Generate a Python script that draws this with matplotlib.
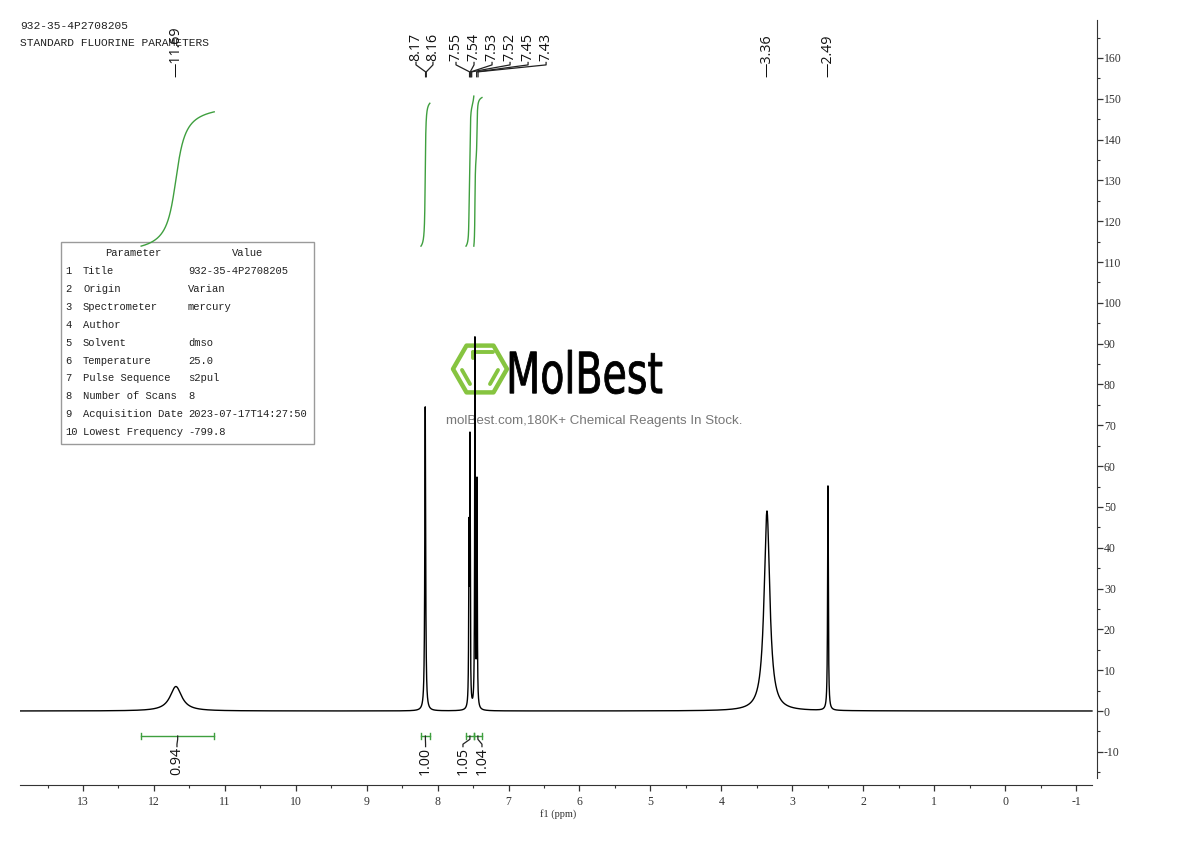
import numpy as np
import matplotlib
matplotlib.use("Agg")
import matplotlib.pyplot as plt
from matplotlib.patches import Polygon, Rectangle, PathPatch
from matplotlib.textpath import TextPath
from matplotlib.font_manager import FontProperties
from matplotlib.transforms import Affine2D
from matplotlib.ticker import MultipleLocator

plt.rcParams['axes.unicode_minus'] = False

# ---------------- data ----------------
header_lines = ["932-35-4P2708205", "STANDARD FLUORINE PARAMETERS"]

peak_ppm = [11.69, 8.175, 7.558, 7.544, 7.474, 7.445, 3.357, 2.497]
peak_height = [6.0, 74.5, 41.0, 64.0, 90.0, 55.0, 49.0, 55.0]
peak_hwhm = [0.10, 0.007, 0.0045, 0.0045, 0.0045, 0.0045, 0.048, 0.006]

label_groups = [["11.69"], ["8.17", "8.16"],
                ["7.55", "7.54", "7.53", "7.52", "7.45", "7.43"],
                ["3.36"], ["2.49"]]

integral_ranges = [(12.18, 11.15), (8.235, 8.11), (7.60, 7.49), (7.49, 7.375)]
integral_values = [0.94, 1.00, 1.05, 1.04]

param_names = ["Title", "Origin", "Spectrometer", "Author", "Solvent",
               "Temperature", "Pulse Sequence", "Number of Scans",
               "Acquisition Date", "Lowest Frequency"]
param_values = ["932-35-4P2708205", "Varian", "mercury", "", "dmso",
                "25.0", "s2pul", "8", "2023-07-17T14:27:50", "-799.8"]

x_ticks = list(range(13, -2, -1))
y_ticks = list(range(-10, 170, 10))
x_label = "f1 (ppm)"
logo_text = "MolBest"
logo_sub = "molBest.com,180K+ Chemical Reagents In Stock."

# ---------------- layout / style ----------------
W, H = 1190, 841
XL, XR = 13.888, -1.296      # ppm at axes left/right edge
YB, YT = -18.13, 169.3
X_END = -1.225               # end of spectrum / bottom spine
label_pos = [[11.689], [8.305, 8.066],
             [7.741, 7.487, 7.233, 6.979, 6.725, 6.471],
             [3.357], [2.497]]
int_label_pos = [11.675, 8.17, 7.643, 7.375]
GREEN = "#3f9f3f"
LABEL_FONT = "Open Sans"
LFS = 10.3
SERIF = "Liberation Serif"
MONO = "Liberation Mono"

fig = plt.figure(figsize=(W / 100, H / 100), dpi=100)

ov = fig.add_axes([0, 0, 1, 1], zorder=0)
ov.set_xlim(0, W)
ov.set_ylim(H, 0)
ov.axis("off")

ax = fig.add_axes([20 / W, 1 - 785 / H, (1097 - 20) / W, (785 - 20) / H], zorder=1)
ax.patch.set_visible(False)

# ---------------- spectrum ----------------
ppm = np.linspace(XL, X_END, 80000)
spec = np.zeros_like(ppm)
for c, h, w in zip(peak_ppm, peak_height, peak_hwhm):
    spec += h / (1 + ((ppm - c) / w) ** 2)
ax.plot(ppm, spec, color="black", lw=1.0, zorder=3)

ax.set_xlim(XL, XR)
ax.set_ylim(YB, YT)

for s in ["top", "left"]:
    ax.spines[s].set_visible(False)
ax.spines["bottom"].set_bounds(XL, X_END)
ax.spines["right"].set_bounds(-16.4, YT)
ax.spines["bottom"].set_color("#333333")
ax.spines["right"].set_color("#333333")
ax.yaxis.tick_right()
ax.set_xticks(x_ticks)
ax.set_xticklabels([str(t) for t in x_ticks])
ax.xaxis.set_minor_locator(MultipleLocator(0.5))
ax.set_yticks(y_ticks)
ax.set_yticklabels([str(t) for t in y_ticks])
ax.yaxis.set_minor_locator(MultipleLocator(5))
ax.tick_params(axis="x", which="major", direction="out", length=4, width=0.9,
               pad=4, labelsize=8.5, colors="#333333")
ax.tick_params(axis="x", which="minor", direction="out", length=2.5, width=0.8,
               colors="#333333")
ax.tick_params(axis="y", which="major", direction="out", length=4, width=0.9,
               pad=1, labelsize=8.5, colors="#333333")
ax.tick_params(axis="y", which="minor", direction="out", length=2.5, width=0.8,
               colors="#333333")
for lab in ax.get_xticklabels() + ax.get_yticklabels():
    lab.set_family(SERIF)
ax.set_xlabel(x_label, fontsize=7.5, family=SERIF, labelpad=1, color="#333333")

# ---------------- peak labels ----------------
Y_TXT_SINGLE = 155.4
Y_TXT_GROUP = 159.2
Y_L2, Y_L3, Y_L4 = 158.3, 156.6, 155.4
for grp, pos in zip(label_groups, label_pos):
    if len(grp) == 1:
        ax.text(pos[0], Y_TXT_SINGLE, "\u2014" + grp[0], rotation=90,
                ha="center", va="bottom", fontsize=LFS, family=LABEL_FONT,
                color="#111111", clip_on=False)
    else:
        for t, lx in zip(grp, pos):
            px = float(t)
            ax.text(lx, Y_TXT_GROUP, t, rotation=90, ha="center", va="bottom",
                    fontsize=LFS, family=LABEL_FONT, color="#111111", clip_on=False)
            ax.plot([lx, lx, px, px], [Y_TXT_GROUP - 0.3, Y_L2, Y_L3, Y_L4],
                    color="#222222", lw=0.9, clip_on=False)

# ---------------- integrals ----------------
BASE = 113.9
RISE = 35.0
Y_BR = -6.13
for (a, b), val, lx in zip(integral_ranges, integral_values, int_label_pos):
    m = (ppm <= a) & (ppm >= b)
    sx = ppm[m]
    cum = np.cumsum(spec[m])
    cum = (cum - cum[0]) / (cum[-1] - cum[0])
    ax.plot(sx, BASE + RISE * val * cum, color=GREEN, lw=1.0, zorder=2)
    ax.plot([a, b], [Y_BR, Y_BR], color=GREEN, lw=1.0)
    ax.plot([a, a], [Y_BR - 0.8, Y_BR + 0.8], color=GREEN, lw=1.0)
    ax.plot([b, b], [Y_BR - 0.8, Y_BR + 0.8], color=GREEN, lw=1.0)
    bc = (a + b) / 2
    ax.plot([bc, bc, lx, lx], [Y_BR, Y_BR - 0.8, Y_BR - 2.0, Y_BR - 2.6],
            color="#222222", lw=0.9)
    ax.text(lx, Y_BR - 2.7, f"{val:.2f}", rotation=90, ha="center", va="top",
            fontsize=LFS, family=LABEL_FONT, color="#111111")

# ---------------- header ----------------
ov.text(20, 26, header_lines[0], fontsize=8.1, family=MONO, va="center",
        ha="left", color="#222222")
ov.text(20, 43, header_lines[1], fontsize=8.1, family=MONO, va="center",
        ha="left", color="#222222")

# ---------------- parameter table ----------------
ov.add_patch(Rectangle((61, 242), 253, 202, fill=False, edgecolor="#9a9a9a", lw=1.0))
ov.text(133, 253, "Parameter", fontsize=7.6, family=MONO, ha="center",
        va="center", color="#222222")
ov.text(248, 253, "Value", fontsize=7.6, family=MONO, ha="center",
        va="center", color="#222222")
for i, (n, v) in enumerate(zip(param_names, param_values)):
    y = 271 + i * 17.9
    ov.text(65, y, str(i + 1), fontsize=7.6, family=MONO, ha="left",
            va="center", color="#222222")
    ov.text(83, y, n, fontsize=7.6, family=MONO, ha="left", va="center",
            color="#222222")
    ov.text(188, y, v, fontsize=7.6, family=MONO, ha="left", va="center",
            color="#222222")

# ---------------- logo ----------------
LG = "#86c440"
cx, cy, rw = 480, 369, 27
hexv = [(cx - rw, cy), (cx - rw / 2, cy - 23.4), (cx + rw / 2, cy - 23.4),
        (cx + rw, cy), (cx + rw / 2, cy + 23.4), (cx - rw / 2, cy + 23.4)]
ov.add_patch(Polygon(hexv, closed=True, fill=False, edgecolor=LG, lw=3.2,
                     joinstyle="round"))
ov.plot([473, 493], [351.5, 351.5], color=LG, lw=2.8, solid_capstyle="round")
ov.plot([473, 473], [351.5, 358], color=LG, lw=2.8, solid_capstyle="round")
ov.plot([462, 470], [370, 384], color=LG, lw=2.8, solid_capstyle="round")
ov.plot([498, 490], [370, 384], color=LG, lw=2.8, solid_capstyle="round")

tp = TextPath((0, 0), logo_text, size=50, prop=FontProperties(family="DejaVu Sans"))
bb = tp.get_extents()
tr = (Affine2D().translate(-bb.x0, -bb.y0)
      .scale(152 / bb.width, -44 / bb.height).translate(510, 394))
ov.add_patch(PathPatch(tr.transform_path(tp), facecolor="black",
                       edgecolor="black", lw=0.6))
ov.text(594, 421, logo_sub, fontsize=9.6, family="Liberation Sans",
        ha="center", va="center", color="#777777")

fig.savefig("out.png", dpi=100)
